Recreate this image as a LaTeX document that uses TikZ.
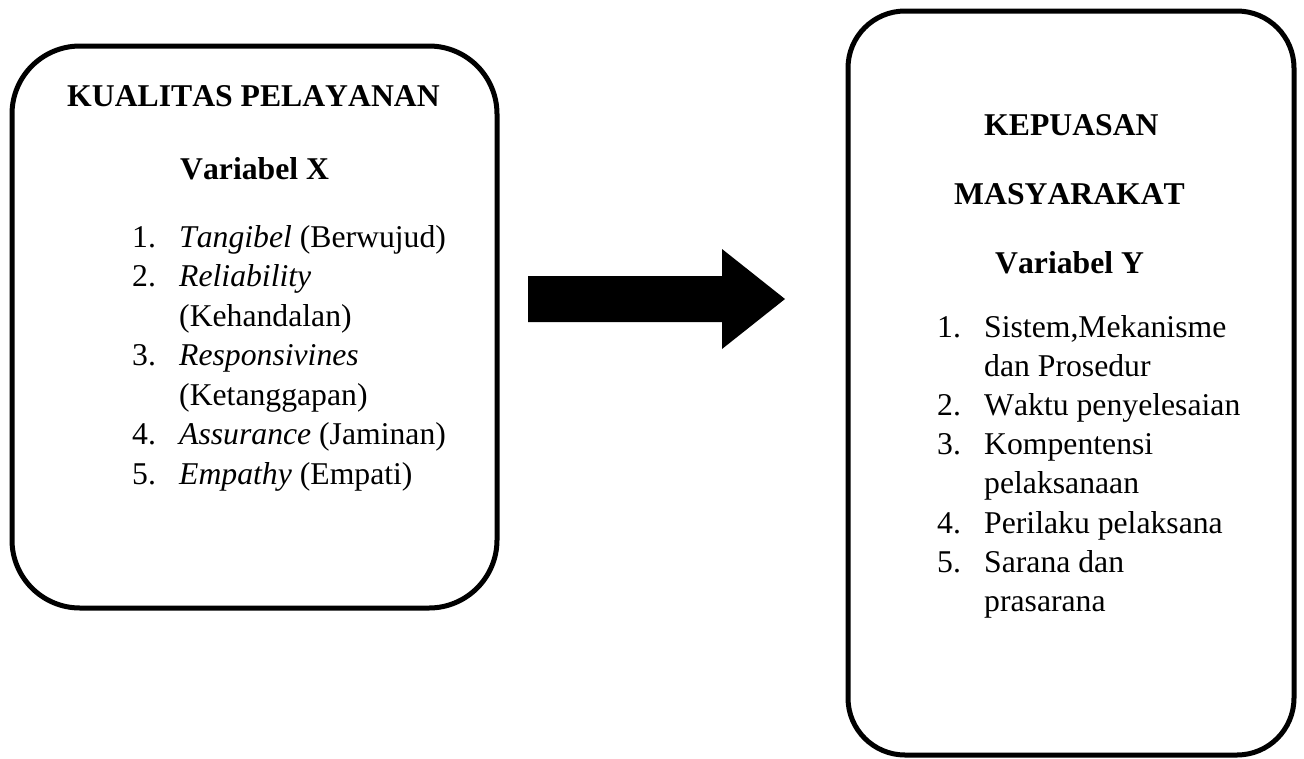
\documentclass[tikz,border=0pt]{standalone}
\usepackage{fontspec}
\setmainfont{Liberation Serif}[Kerning=Off]
\begin{document}
\begin{tikzpicture}[x=1pt,y=-1pt,
  box/.style={draw=black, line width=5pt, inner sep=0pt, outer sep=0pt},
  txt/.style={inner sep=0pt, anchor=base west, font=\fontsize{31.7}{38}\selectfont},
  ttl/.style={inner sep=0pt, anchor=base west, font=\fontsize{31.7}{38}\selectfont\bfseries},
  blockarrow/.style={fill=black}]
\useasboundingbox (0,0) rectangle (1304,758);
% boxes
\node[box, rounded corners=68pt, minimum width=485pt, minimum height=562pt] (boxX) at (254.5,327) {};
\node[box, rounded corners=57pt, minimum width=446pt, minimum height=744pt] (boxY) at (1071,383) {};
% left box text
\node[ttl] (tX) at (67,106) {KUALITAS PELAYANAN};
\node[ttl] (vX) at (180,179) {Variabel X};
\node[txt] (n1) at (132,247) {1.};
\node[txt] (i1) at (179,247) {\textit{Tangibel} (Berwujud)};
\node[txt] (n2) at (132,286.5) {2.};
\node[txt] (i2) at (179,286.5) {\textit{Reliability}};
\node[txt] (i2b) at (179,326) {(Kehandalan)};
\node[txt] (n3) at (132,365.5) {3.};
\node[txt] (i3) at (179,365.5) {\textit{Responsivines}};
\node[txt] (i3b) at (179,405) {(Ketanggapan)};
\node[txt] (n4) at (132,444.5) {4.};
\node[txt] (i4) at (179,444.5) {\textit{Assurance} (Jaminan)};
\node[txt] (n5) at (132,484) {5.};
\node[txt] (i5) at (179,484) {\textit{Empathy} (Empati)};
% right box text
\node[ttl] (tY1) at (984,135) {KEPUASAN};
\node[ttl] (tY2) at (954,204) {MASYARAKAT};
\node[ttl] (vY) at (995,273) {Variabel Y};
\node[txt] (m1) at (937,337) {1.};
\node[txt] (j1) at (984,337) {Sistem,Mekanisme};
\node[txt] (j1b) at (984,376.2) {dan Prosedur};
\node[txt] (m2) at (937,415.4) {2.};
\node[txt] (j2) at (984,415.4) {Waktu penyelesaian};
\node[txt] (m3) at (937,454.6) {3.};
\node[txt] (j3) at (984,454.6) {Kompentensi};
\node[txt] (j3b) at (984,493.8) {pelaksanaan};
\node[txt] (m4) at (937,533) {4.};
\node[txt] (j4) at (984,533) {Perilaku pelaksana};
\node[txt] (m5) at (937,572.2) {5.};
\node[txt] (j5) at (984,572.2) {Sarana dan};
\node[txt] (j5b) at (984,611.4) {prasarana};
% block arrow
\fill[blockarrow] (528,276) -- (722,276) -- (722,249) -- (785,299) -- (722,349) -- (722,322) -- (528,322) -- cycle;
\end{tikzpicture}
\end{document}
